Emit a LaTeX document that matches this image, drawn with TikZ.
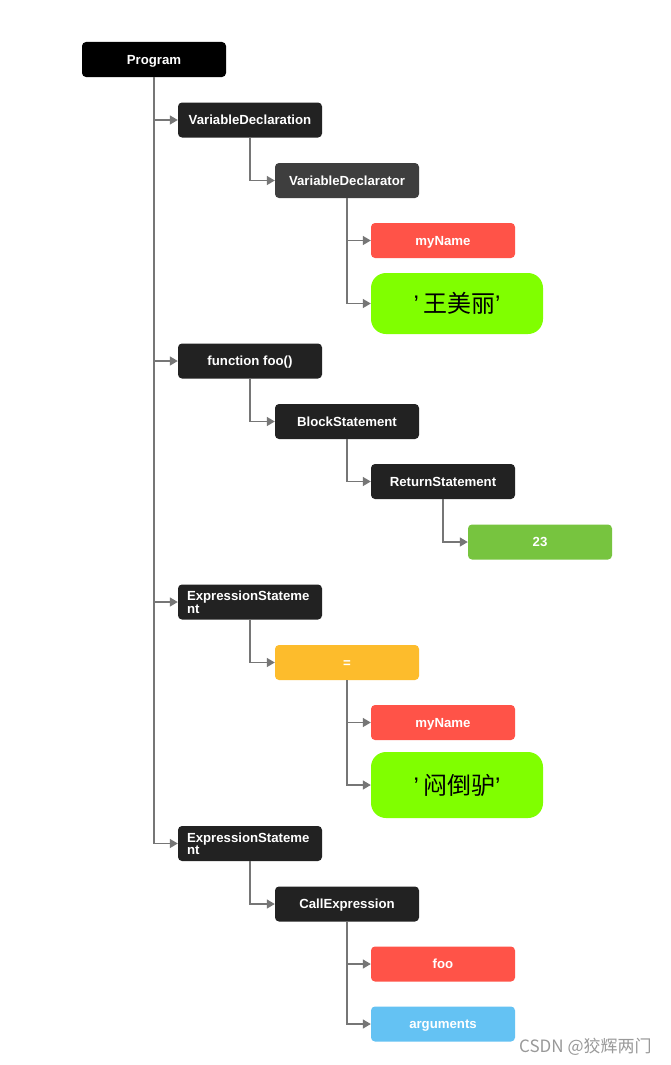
\documentclass[tikz,border=0pt]{standalone}
\usepackage{fontspec}
\setmainfont{Liberation Sans}
\newfontfamily\cjk{Noto Sans CJK SC}
\newfontfamily\quotefont{Liberation Sans}
\usepackage{tikz}
\usepackage{xcolor}
\usetikzlibrary{arrows.meta}

\definecolor{nodeblack}{HTML}{000000}
\definecolor{nodedark}{HTML}{222222}
\definecolor{nodegrey}{HTML}{3E3E3E}
\definecolor{nodered}{HTML}{FF5348}
\definecolor{nodelime}{HTML}{80FF00}
\definecolor{nodegreen}{HTML}{77C43F}
\definecolor{nodeyellow}{HTML}{FDBC2C}
\definecolor{nodeblue}{HTML}{64C2F3}
\definecolor{linegrey}{HTML}{767676}

\newcommand{\sq}{{\quotefont ’}}

\begin{document}
\begin{tikzpicture}[x=1pt,y=-1pt,
    box/.style={rounded corners=4pt, minimum width=144pt, minimum height=35pt,
      inner sep=0pt, text height=9.5pt, text depth=0pt, text=white,
      font=\fontsize{13.2}{12.5}\selectfont\bfseries},
    wrapbox/.style={box, fill=nodedark, text width=126pt, align=left, text depth=12.5pt},
    strbox/.style={rounded corners=15pt, minimum width=172pt, fill=nodelime,
      inner sep=0pt, text=black, font=\cjk\fontsize{24}{24}\selectfont},
    link/.style={draw=linegrey, line width=1.4pt, -{Triangle[length=8pt,width=9pt]}}
  ]
        % Page
        \fill[white] (0,0) rectangle (670,1065);
        \useasboundingbox (0,0) rectangle (670,1065);

        % Define nodes
        \node[box, fill=nodeblack] (prog) at (154,59.5) {Program};
        \node[box, fill=nodedark] (vdecl) at (250,120) {VariableDeclaration};
        \node[box, fill=nodegrey] (vdtor) at (347,180.5) {VariableDeclarator};
        \node[box, fill=nodered] (name1) at (443,240.5) {myName};
        \node[strbox, minimum height=61pt] (str1) at (457,303.5) {\sq\,王美丽\sq};

        \node[box, fill=nodedark] (func) at (250,361) {function foo()};
        \node[box, fill=nodedark] (block) at (347,421.5) {BlockStatement};
        \node[box, fill=nodedark] (ret) at (443,481.5) {ReturnStatement};
        \node[box, fill=nodegreen] (num) at (540,542) {23};

        \node[wrapbox] (expr1) at (250,602) {ExpressionStateme\\nt};
        \node[box, fill=nodeyellow] (assign) at (347,662.5) {=};
        \node[box, fill=nodered] (name2) at (443,722.5) {myName};
        \node[strbox, minimum height=66pt] (str2) at (457,785) {\sq\,闷倒驴\sq};

        \node[wrapbox] (expr2) at (250,843.5) {ExpressionStateme\\nt};
        \node[box, fill=nodedark] (call) at (347,904) {CallExpression};
        \node[box, fill=nodered] (callee) at (443,964) {foo};
        \node[box, fill=nodeblue] (args) at (443,1024) {arguments};

        % Draw connectors
        \draw[link] (prog.south) |- (vdecl.west);
        \draw[link] (prog.south) |- (func.west);
        \draw[link] (prog.south) |- (expr1.west);
        \draw[link] (prog.south) |- (expr2.west);

        \draw[link] (vdecl.south) |- (vdtor.west);
        \draw[link] (vdtor.south) |- (name1.west);
        \draw[link] (vdtor.south) |- (str1.west);

        \draw[link] (func.south) |- (block.west);
        \draw[link] (block.south) |- (ret.west);
        \draw[link] (ret.south) |- (num.west);

        \draw[link] (expr1.south) |- (assign.west);
        \draw[link] (assign.south) |- (name2.west);
        \draw[link] (assign.south) |- (str2.west);

        \draw[link] (expr2.south) |- (call.west);
        \draw[link] (call.south) |- (callee.west);
        \draw[link] (call.south) |- (args.west);

        % Watermark
        \node[anchor=west, inner sep=0pt, text=gray!80, font=\cjk\fontsize{17}{17}\selectfont] (mark) at (519,1047) {CSDN @狡辉两门};

    \end{tikzpicture}
\end{document}
